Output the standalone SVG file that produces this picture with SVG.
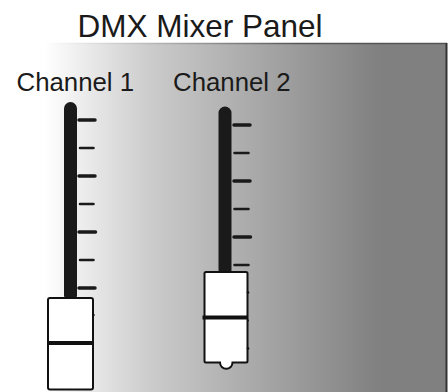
<svg xmlns="http://www.w3.org/2000/svg" width="448" height="392" viewBox="0 0 448 392">
<defs>
<linearGradient id="bg" gradientUnits="userSpaceOnUse" x1="44" y1="0" x2="380" y2="0">
<stop offset="0" stop-color="#ffffff"/>
<stop offset="0.32" stop-color="#cbcbcb"/>
<stop offset="0.77" stop-color="#999999"/>
<stop offset="1" stop-color="#808080"/>
</linearGradient>
<linearGradient id="edge" gradientUnits="userSpaceOnUse" x1="44" y1="0" x2="300" y2="0">
<stop offset="0" stop-color="#ffffff"/>
<stop offset="1" stop-color="#555555"/>
</linearGradient>
</defs>
<style>
.t{font-family:"Liberation Sans",Arial,sans-serif;fill:#1a1a1a}
.rod{fill:#1a1a1a}
.tk{stroke:#1a1a1a;stroke-linecap:round;stroke-width:3.5}
.tn{stroke:#1a1a1a;stroke-linecap:round;stroke-width:2.5}
.knob{fill:#ffffff;stroke:#111111;stroke-width:2}
.bar{stroke:#111111;stroke-width:4}
.dot{fill:#111111}
</style>
<rect id="panel" x="44" y="43.5" width="403" height="360" fill="url(#bg)"/>
<line x1="44" y1="43.5" x2="447" y2="43.5" stroke="url(#edge)" stroke-width="1.5"/>
<line x1="446.5" y1="43" x2="446.5" y2="392" stroke="#333333" stroke-width="2"/>
<text class="t" x="77.5" y="37" font-size="31.5">DMX Mixer Panel</text>
<g id="channel1">
<text class="t" x="16.5" y="91" font-size="25.8">Channel 1</text>
<rect class="rod" x="64" y="102" width="13" height="200" rx="6.5"/>
<line class="tk" x1="79" y1="120" x2="95" y2="120"/>
<line class="tn" x1="80" y1="148" x2="93.5" y2="148"/>
<line class="tk" x1="79" y1="176" x2="95" y2="176"/>
<line class="tn" x1="80" y1="204" x2="93.5" y2="204"/>
<line class="tk" x1="79" y1="232" x2="95.5" y2="232"/>
<line class="tn" x1="80" y1="260" x2="93.5" y2="260"/>
<line class="tk" x1="79" y1="288" x2="95" y2="288"/>
<rect class="knob" x="48" y="298" width="45" height="91.5" rx="2"/>
<line class="bar" x1="47" y1="343" x2="93.5" y2="343"/>
<circle class="dot" cx="93.5" cy="315" r="1.2"/>
</g>
<g id="channel2">
<text class="t" x="173" y="91" font-size="25.8">Channel 2</text>
<rect class="rod" x="218.5" y="106.5" width="13" height="170" rx="6.5"/>
<line class="tk" x1="234" y1="125" x2="250" y2="125"/>
<line class="tn" x1="234.5" y1="153" x2="248.5" y2="153"/>
<line class="tk" x1="234" y1="181" x2="250" y2="181"/>
<line class="tn" x1="234.5" y1="209" x2="248.5" y2="209"/>
<line class="tk" x1="234" y1="237" x2="250.5" y2="237"/>
<line class="tn" x1="234.5" y1="265" x2="248.5" y2="265"/>
<path class="knob" d="M206,272 H246 Q247.5,272 247.5,273.5 V361 Q247.5,362.5 246,362.5 H232.5 A6.2,6.2 0 0 1 220,362.5 H206 Q204.5,362.5 204.5,361 V273.5 Q204.5,272 206,272 Z"/>
<line class="bar" x1="202.5" y1="317.5" x2="248" y2="317.5"/>
<circle class="dot" cx="248" cy="292.5" r="1.3"/>
<circle class="dot" cx="248" cy="320.5" r="1"/>
<circle class="dot" cx="248" cy="348.5" r="1.3"/>
</g>
</svg>
